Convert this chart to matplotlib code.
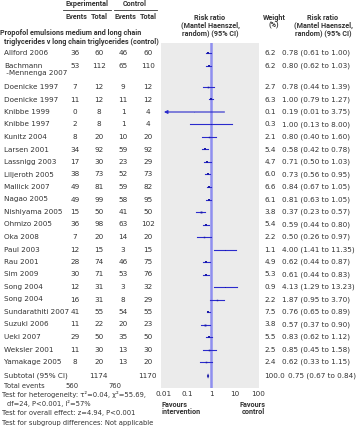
import numpy as np
import matplotlib
matplotlib.use("Agg")
import matplotlib.pyplot as plt

# study data
studies = ["Allford 2006", "Bachmann\n -Mennenga 2007", "Doenicke 1997", "Doenicke 1997",
           "Knibbe 1999", "Knibbe 1997", "Kunitz 2004", "Larsen 2001", "Lassnigg 2003",
           "Liljeroth 2005", "Mallick 2007", "Nagao 2005", "Nishiyama 2005", "Ohmizo 2005",
           "Oka 2008", "Paul 2003", "Rau 2001", "Sim 2009", "Song 2004", "Song 2004",
           "Sundarathiti 2007", "Suzuki 2006", "Ueki 2007", "Weksler 2001", "Yamakage 2005"]
exp_events = [36, 53, 7, 11, 0, 2, 8, 34, 17, 38, 49, 49, 15, 36, 7, 12, 28, 30, 12, 16, 41, 11, 29, 11, 8]
exp_total = [60, 112, 12, 12, 8, 8, 20, 92, 30, 73, 81, 99, 50, 98, 20, 15, 74, 71, 31, 31, 55, 22, 50, 30, 20]
ctrl_events = [46, 65, 9, 11, 1, 1, 10, 59, 23, 52, 59, 58, 41, 63, 14, 3, 46, 53, 3, 8, 54, 20, 35, 13, 13]
ctrl_total = [60, 110, 12, 12, 4, 4, 20, 92, 29, 73, 82, 95, 50, 102, 20, 15, 75, 76, 32, 29, 55, 23, 50, 30, 20]
weights = [6.2, 6.2, 2.7, 6.3, 0.1, 0.3, 2.1, 5.4, 4.7, 6.0, 6.6, 6.1, 3.8, 5.4, 2.2, 1.1,
           4.9, 5.3, 0.9, 2.2, 7.5, 3.8, 5.5, 2.5, 2.4]
rr = [0.78, 0.80, 0.78, 1.00, 0.19, 1.00, 0.80, 0.58, 0.71, 0.73, 0.84, 0.81, 0.37, 0.59,
      0.50, 4.00, 0.62, 0.61, 4.13, 1.87, 0.76, 0.57, 0.83, 0.85, 0.62]
ci_lo = [0.61, 0.62, 0.44, 0.79, 0.01, 0.13, 0.40, 0.42, 0.50, 0.56, 0.67, 0.63, 0.23, 0.44,
         0.26, 1.41, 0.44, 0.44, 1.29, 0.95, 0.65, 0.37, 0.62, 0.45, 0.33]
ci_hi = [1.00, 1.03, 1.39, 1.27, 3.75, 8.00, 1.60, 0.78, 1.03, 0.95, 1.05, 1.05, 0.57, 0.80,
         0.97, 11.35, 0.87, 0.83, 13.23, 3.70, 0.89, 0.90, 1.12, 1.58, 1.15]
pooled = (0.75, 0.67, 0.84)
xticks = [0.01, 0.1, 1, 10, 100]
xtick_labels = ["0.01", "0.1", "1", "10", "100"]

W, H = 357, 440
fig = plt.figure(figsize=(W / 100, H / 100), dpi=100)
bg = fig.add_axes([0, 0, 1, 1])
bg.set_xlim(0, W)
bg.set_ylim(H, 0)
bg.axis("off")

txt = "#333333"
fs = 5.2
bfs = 5.2
blue = "#2a2acc"

# row positions (pixels from top)
row_y = [53, 66] + [87 + 12.5 * i for i in range(len(studies) - 2)]
sub_y = 376

# panel
p_left, p_right, p_top, p_bot = 161, 259, 43, 388
ax = fig.add_axes([p_left / W, 1 - p_bot / H, (p_right - p_left) / W, (p_bot - p_top) / H])
ax.set_xscale("log")
ax.set_xlim(0.0075, 110)
ax.set_ylim(p_bot, p_top)
ax.set_facecolor("#ebebeb")
for s in ax.spines.values():
    s.set_visible(False)
ax.set_yticks([])
ax.set_xticks(xticks)
ax.set_xticklabels(xtick_labels)
ax.minorticks_off()
ax.tick_params(axis="x", length=0, pad=2, labelsize=fs, labelcolor=txt)
ax.axvline(1, color="#8f8fef", lw=1.8, zorder=1)

for i in range(len(studies)):
    y = row_y[i]
    if i == 4:
        ax.annotate("", xy=(ci_lo[i], y), xytext=(ci_hi[i], y),
                    arrowprops=dict(arrowstyle="-|>", color=blue, lw=0.8,
                                    mutation_scale=5, shrinkA=0, shrinkB=0), zorder=3)
    else:
        ax.plot([ci_lo[i], ci_hi[i]], [y, y], color=blue, lw=0.8, zorder=3)
    ax.plot(rr[i], y, marker="s", color="#1a1aa8", ms=np.sqrt(weights[i]) * 0.7,
            mew=0, zorder=4)

# pooled diamond
dy = 2.6
ax.fill([pooled[1], pooled[0], pooled[2], pooled[0]], [sub_y, sub_y - dy, sub_y, sub_y + dy],
        color="#1a1aa8", zorder=4, lw=0)

# headers
bold = dict(fontsize=bfs, color=txt, fontweight="bold", va="center", family="Roboto")
bg.text(87, 4, "Experimental", ha="center", **bold)
bg.text(135, 4, "Control", ha="center", **bold)
bg.plot([63, 111], [10, 10], color=txt, lw=0.6)
bg.plot([114, 157], [10, 10], color=txt, lw=0.6)
for x, s in [(76, "Events"), (99, "Total"), (125, "Events"), (148, "Total")]:
    bg.text(x, 17, s, ha="center", **bold)
bg.text(0, 33, "Propofol emulsions medium and long chain", ha="left", **bold)
bg.text(4, 42, "triglycerides v long chain triglycerides (control)", ha="left", **bold)
for y, s in [(18, "Risk ratio"), (25, "(Mantel Haenszel,"), (33, "random) (95% CI)")]:
    bg.text(210, y, s, ha="center", **bold)
    bg.text(323, y, s, ha="center", **bold)
bg.text(274, 18, "Weight", ha="center", **bold)
bg.text(274, 25, "(%)", ha="center", **bold)

norm = dict(fontsize=fs, color=txt, va="center")
for i, name in enumerate(studies):
    y = row_y[i]
    if "\n" in name:
        a, b = name.split("\n")
        bg.text(4, y, a, ha="left", **norm)
        bg.text(4, y + 7.5, b, ha="left", **norm)
    else:
        bg.text(4, y, name, ha="left", **norm)
    bg.text(75, y, str(exp_events[i]), ha="center", **norm)
    bg.text(99, y, str(exp_total[i]), ha="center", **norm)
    bg.text(123, y, str(ctrl_events[i]), ha="center", **norm)
    bg.text(148, y, str(ctrl_total[i]), ha="center", **norm)
    bg.text(276, y, f"{weights[i]:.1f}", ha="right", **norm)
    bg.text(282, y, f"{rr[i]:.2f} ({ci_lo[i]:.2f} to {ci_hi[i]:.2f})", ha="left", **norm)

bg.text(4, sub_y, "Subtotal (95% CI)", ha="left", **norm)
bg.text(98, sub_y, str(sum(exp_total)), ha="center", **norm)
bg.text(147, sub_y, str(sum(ctrl_total)), ha="center", **norm)
bg.text(275, sub_y, "100.0", ha="center", **norm)
bg.text(288, sub_y, f"{pooled[0]:.2f} ({pooled[1]:.2f} to {pooled[2]:.2f})", ha="left", **norm)

small = dict(fontsize=4.85, color=txt, va="center")
bg.text(4, 385.5, "Total events", ha="left", **small)
bg.text(72, 385.5, str(sum(exp_events)), ha="center", **small)
bg.text(115, 385.5, str(sum(ctrl_events)), ha="center", **small)
bg.text(2, 394.5, "Test for heterogeneity: \u03c4\u00b2=0.04, \u03c7\u00b2=55.69,", ha="left", **small)
bg.text(7, 403.5, "df=24, P<0.001, I\u00b2=57%", ha="left", **small)
bg.text(2, 413, "Test for overall effect: z=4.94, P<0.001", ha="left", **small)
bg.text(2, 422.5, "Test for subgroup differences: Not applicable", ha="left", **small)

bg.text(162, 405, "Favours", ha="left", **bold)
bg.text(162, 412, "intervention", ha="left", **bold)
bg.text(265, 405, "Favours", ha="right", **bold)
bg.text(265, 412, "control", ha="right", **bold)

fig.savefig("out.png", dpi=100)
